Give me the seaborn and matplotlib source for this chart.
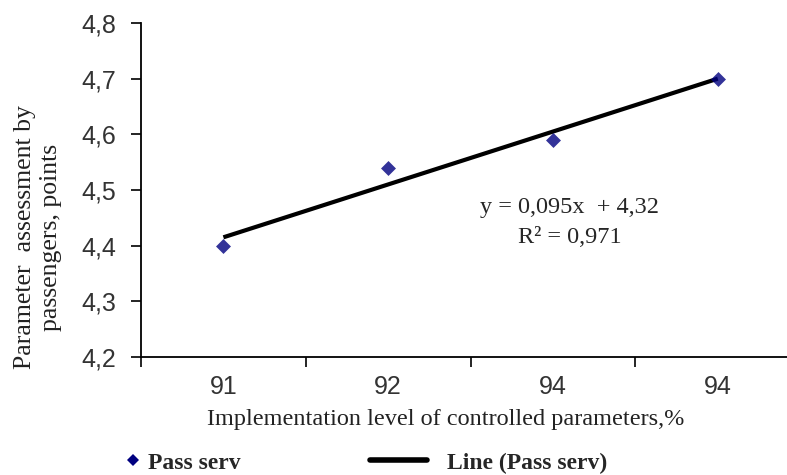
import matplotlib
matplotlib.use("Agg")
import matplotlib.pyplot as plt
from matplotlib.lines import Line2D
import seaborn as sns
import numpy as np
import pandas as pd

categories = ["91", "92", "94", "94"]
values = [4.40, 4.54, 4.59, 4.70]
y_ticks = [4.2, 4.3, 4.4, 4.5, 4.6, 4.7, 4.8]
y_tick_labels = ["4,2", "4,3", "4,4", "4,5", "4,6", "4,7", "4,8"]
equation = "y = 0,095x  + 4,32"
r2_text = "R² = 0,971"
x_title = "Implementation level of controlled parameters,%"
y_title = "Parameter  assessment by\npassengers, points"
legend_labels = ["Pass serv", "Line (Pass serv)"]

sns.set_style("white")
plt.rcParams["font.family"] = ["Liberation Serif", "DejaVu Serif"]

W, H = 787, 475
df = pd.DataFrame({"pos": np.arange(len(categories)), "val": values})

fig = plt.figure(figsize=(W / 100, H / 100), dpi=100)
ax = fig.add_axes([141 / W, 1 - 357 / H, 1 - 141 / W, (357 - 23) / H])

navy = "#000080"
sns.regplot(data=df, x="pos", y="val", ax=ax, ci=None, truncate=True, marker="D",
            scatter_kws=dict(s=58, color=navy, zorder=3, linewidths=0),
            line_kws=dict(color="black", lw=3.0, zorder=2, solid_capstyle="butt"))

ax.set_xticks(np.arange(-0.5, len(categories) - 1, 1.0))
ax.set_xticklabels([])
ax.set_xticks(np.arange(len(categories)), minor=True)
ax.set_xticklabels(categories, minor=True, family="Liberation Sans", fontsize=18, color="#333333")
ax.set_yticks(y_ticks)
ax.set_yticklabels(y_tick_labels, family="Liberation Sans", fontsize=18, color="#333333")
ax.set_xlim(-0.5, 3.42)
ax.set_ylim(4.2, 4.8)
ax.tick_params(axis="x", which="major", bottom=True, direction="out", length=7, width=1.2, color="black")
ax.tick_params(axis="x", which="minor", bottom=True, length=0, pad=13)
ax.tick_params(axis="y", left=True, direction="out", length=7, width=1.2, color="black", pad=11)

for s in ["top", "right"]:
    ax.spines[s].set_visible(False)
for s in ["left", "bottom"]:
    ax.spines[s].set_color("black")
    ax.spines[s].set_linewidth(1.3)

ax.set_xlabel("")
ax.set_ylabel("")
fig.text(446 / W, 1 - 420 / H, x_title, fontsize=17.5, ha="center", va="center", color="#222222")
fig.text(38 / W, 1 - 237 / H, y_title, fontsize=18.5, ha="center", va="center",
         rotation=90, multialignment="center", linespacing=1.25, color="#222222")

ax.text(2.1, 4.468, equation, fontsize=17.5, ha="center", va="center")
ax.text(2.1, 4.414, r2_text, fontsize=17.5, ha="center", va="center")

fs = 17
prop = dict(family="Liberation Serif", weight="bold", size=fs)
em = fs * 100 / 72
h1 = Line2D([], [], ls="none", marker="D", color=navy, markersize=6.5, markeredgewidth=0)
h2 = Line2D([], [], color="black", lw=4)
fig.legend([h1], [legend_labels[0]], loc="center left", bbox_to_anchor=(123 / W, 1 - 463 / H),
           frameon=False, prop=prop, borderaxespad=0, borderpad=0,
           handlelength=19 / em, handletextpad=6 / em)
fig.legend([h2], [legend_labels[1]], loc="center left", bbox_to_anchor=(370 / W, 1 - 463 / H),
           frameon=False, prop=prop, borderaxespad=0, borderpad=0,
           handlelength=57 / em, handletextpad=20 / em)

fig.savefig("out.png", dpi=100)
